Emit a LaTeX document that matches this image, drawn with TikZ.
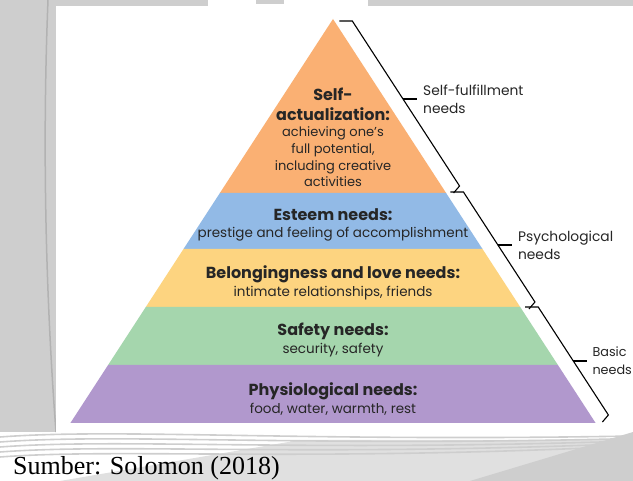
\documentclass[tikz,border=0pt]{standalone}
\usepackage{fontspec}
\setmainfont{Liberation Serif}
\newfontfamily\gothfont{Poppins}
\usetikzlibrary{positioning}
\definecolor{selfcol}{RGB}{250,176,115}
\definecolor{esteemcol}{RGB}{146,186,230}
\definecolor{belongcol}{RGB}{253,212,128}
\definecolor{safetycol}{RGB}{165,214,173}
\definecolor{physiocol}{RGB}{177,152,205}
\definecolor{wmgray}{RGB}{206,206,206}
% one band of the pyramid between two heights
\newcommand{\pyrband}[3]{\fill[#3] ({333-0.65*(#1-19)}, #1) -- ({333+0.65*(#1-19)}, #1)
    -- ({333+0.65*(#2-19)}, #2) -- ({333-0.65*(#2-19)}, #2) -- cycle;
}
% bracket along the right edge: top, bottom, middle, name
\newcommand{\needsbrace}[4]{
    \coordinate (#4a) at ({351+0.65*(#1-19)}, #1);
    \coordinate (#4b) at ({351+0.65*(#2-19)}, #2);
    \coordinate (#4m) at ({351+0.65*(#3-19)}, #3);
    \draw[brace] ({338+0.65*(#1-19)}, #1) -- (#4a) -- (#4b) -- ++(-6,7);
}
\newcommand{\lvlhead}[1]{{\fontsize{16}{20}\selectfont\bfseries #1}}

\begin{document}
\begin{tikzpicture}[x=1pt, y=-1pt,
    brace/.style={black, line width=1.1pt, line join=miter},
    lvltext/.style={font=\gothfont\fontsize{13.5}{17.5}\selectfont, align=center, inner sep=0pt, text=black!85},
    needlbl/.style={font=\gothfont\fontsize{13.8}{18}\selectfont, align=left, inner sep=0pt, text=black!85}]
    \useasboundingbox (0,0) rectangle (633,481);

    % watermark behind the figure
    \fill[wmgray] (0,0) rectangle (208,7);
    \fill[wmgray] (256,0) rectangle (284,4);
    \fill[wmgray] (368,0) rectangle (633,7);
    \fill[wmgray] (0,0) rectangle (56,432);
    \draw[black!30, line width=1.5pt] (48,0) .. controls (42,150) and (46,300) .. (56,432);
    \fill[black!12] (60,481) -- (300,440) -- (633,440) -- (633,481) -- cycle;
    \fill[wmgray] (470,481) -- (633,432) -- (633,481) -- cycle;
    \foreach \d in {0,5,...,20} {
        \draw[wmgray, line width=1.6pt] (0,{437+\d}) .. controls (120,{428+\d}) and (300,{442+\d}) .. (633,{436+\d/2});
    }
    \fill[white] (56,6) rectangle (633,432);

    % Draw pyramid
    \pyrband{19}{193}{selfcol}
    \pyrband{193}{249}{esteemcol}
    \pyrband{249}{307}{belongcol}
    \pyrband{307}{365}{safetycol}
    \pyrband{365}{423}{physiocol}

    \node[lvltext, font=\gothfont\fontsize{16}{20}\selectfont\bfseries] (selfhead) at (333,104) {Self-\\actualization:};
    \node[lvltext, font=\gothfont\fontsize{13}{16.7}\selectfont] (selfact) at (333,157) {achieving one’s\\full potential,\\including creative\\activities};
    \node[lvltext] (esteem) at (333,225) {\lvlhead{Esteem needs:}\\prestige and feeling of accomplishment};
    \node[lvltext] (belong) at (333,283) {\lvlhead{Belongingness and love needs:}\\intimate relationships, friends};
    \node[lvltext] (safety) at (333,340) {\lvlhead{Safety needs:}\\security, safety};
    \node[lvltext] (physio) at (333,399) {\lvlhead{Physiological needs:}\\food, water, warmth, rest};

    % Draw brackets
    \needsbrace{21}{186}{99}{s1}
    \needsbrace{192}{302}{245}{s2}
    \needsbrace{307}{415}{361}{s3}

    \node[needlbl, right=20pt of s1m] (fulfil) {Self-fulfillment\\needs};
    \node[needlbl, right=20pt of s2m] (psych) {Psychological\\needs};
    \node[needlbl, font=\gothfont\fontsize{12.8}{18}\selectfont, right=19pt of s3m] (basic) {Basic\\needs};
    \draw[brace, shorten >=6pt] (s1m) -- (fulfil.west);
    \draw[brace, shorten >=6pt] (s2m) -- (psych.west);
    \draw[brace, shorten >=5pt] (s3m) -- (basic.west);

    \node[anchor=base west, font=\fontsize{26}{30}\selectfont, inner sep=0pt] (source) at (13,475) {Sumber: Solomon (2018)};
\end{tikzpicture}
\end{document}
